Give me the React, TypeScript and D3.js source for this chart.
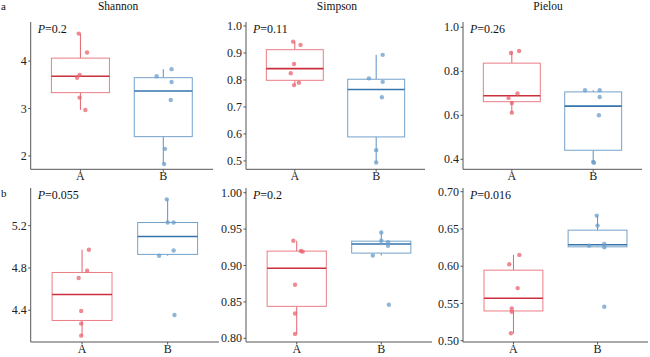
import React from "react";
import * as d3 from "d3";

const categories = ["A", "B"];
const titles = ["Shannon", "Simpson", "Pielou"];
const rowLabels = ["a", "b"];
const pLabels = ["0.2", "0.11", "0.26", "0.055", "0.2", "0.016"];

// values per panel, group A and B
const shannonA = [4.58, 4.18, 3.71, 3.65, 3.23, 2.97];
const shannonB = [3.68, 3.83, 3.56, 3.18, 2.15, 1.83];
const simpsonA = [0.942, 0.93, 0.859, 0.825, 0.79, 0.781];
const simpsonB = [0.893, 0.806, 0.793, 0.736, 0.54, 0.494];
const pielouA = [0.883, 0.892, 0.699, 0.679, 0.656, 0.612];
const pielouB = [0.714, 0.714, 0.683, 0.6, 0.388, 0.384];
const shannon2A = [4.973, 4.775, 4.705, 4.393, 4.274, 4.16];
const shannon2B = [5.449, 5.23, 5.23, 4.966, 4.916, 4.356];
const simpson2A = [0.934, 0.92, 0.919, 0.8735, 0.834, 0.806];
const simpson2B = [0.9453, 0.9339, 0.932, 0.927, 0.9137, 0.846];
const pielou2A = [0.6027, 0.6152, 0.5706, 0.5433, 0.5388, 0.51];
const pielou2B = [0.6679, 0.6545, 0.6276, 0.63, 0.6255, 0.5455];

// horizontal jitter (in category units)
const jit1A = [-0.02, 0.08, -0.01, -0.04, -0.01, 0.06];
const jit1B = [-0.08, 0.1, 0.1, 0.09, 0.02, 0.01];
const jit2A = [-0.02, 0.07, -0.01, -0.05, 0.05, -0.01];
const jit2B = [0.08, -0.09, 0.08, 0.07, 0, 0];
const jit3A = [-0.01, 0.09, 0.07, -0.04, 0, 0];
const jit3B = [-0.1, 0.08, 0.08, 0.07, 0, 0.01];
const jit4A = [0.08, 0.06, -0.04, -0.01, -0.01, -0.01];
const jit4B = [-0.01, 0, 0.07, 0.07, -0.1, 0.08];
const jit5A = [-0.04, 0.05, 0.07, -0.02, -0.02, -0.02];
const jit5B = [0, 0, 0.08, 0.08, -0.1, 0.09];
const jit6A = [-0.05, 0.07, 0.05, -0.02, -0.02, -0.03];
const jit6B = [-0.01, 0, -0.1, 0.08, 0.08, 0.08];

const ticks1 = [2, 3, 4];
const ticks2 = [0.5, 0.6, 0.7, 0.8, 0.9, 1.0];
const ticks3 = [0.4, 0.6, 0.8, 1.0];
const ticks4 = [4.4, 4.8, 5.2];
const ticks5 = [0.8, 0.85, 0.9, 0.95, 1.0];
const ticks6 = [0.5, 0.55, 0.6, 0.65, 0.7];

const domains: [number, number][] = [
  [1.719, 4.824],
  [0.469, 1.0148],
  [0.3544, 1.024],
  [4.1, 5.5565],
  [0.7949, 1.00646],
  [0.49826, 0.70497],
];

const panels = [
  { a: shannonA, b: shannonB, ja: jit1A, jb: jit1B, ticks: ticks1, fmt: "d" },
  { a: simpsonA, b: simpsonB, ja: jit2A, jb: jit2B, ticks: ticks2, fmt: ".1f" },
  { a: pielouA, b: pielouB, ja: jit3A, jb: jit3B, ticks: ticks3, fmt: ".1f" },
  { a: shannon2A, b: shannon2B, ja: jit4A, jb: jit4B, ticks: ticks4, fmt: ".1f" },
  { a: simpson2A, b: simpson2B, ja: jit5A, jb: jit5B, ticks: ticks5, fmt: ".2f" },
  { a: pielou2A, b: pielou2B, ja: jit6A, jb: jit6B, ticks: ticks6, fmt: ".2f" },
];

const layoutX = [
  [30.7, 213],
  [246, 425],
  [463, 642],
  [30.7, 219],
  [246, 432],
  [463, 648],
];
const layoutY = [
  [22, 169.3],
  [188, 342],
];

const colors = [
  { box: "#EB7D85", whisk: "#E3646E", med: "#CC2F3C", pt: "#E8636E" },
  { box: "#74A2CA", whisk: "#5F91BF", med: "#3574AC", pt: "#6A9DCA" },
];

const FONT = "Liberation Serif";

function stats(v: number[]) {
  const s = [...v].sort(d3.ascending);
  const q1 = d3.quantile(s, 0.25)!;
  const med = d3.quantile(s, 0.5)!;
  const q3 = d3.quantile(s, 0.75)!;
  const iqr = q3 - q1;
  const lo = d3.min(s.filter((x) => x >= q1 - 1.5 * iqr))!;
  const hi = d3.max(s.filter((x) => x <= q3 + 1.5 * iqr))!;
  return { q1, med, q3, lo, hi };
}

function Panel({ idx }: { idx: number }) {
  const p = panels[idx];
  const [x0, x1] = layoutX[idx];
  const [yTop, yBot] = layoutY[idx < 3 ? 0 : 1];
  const y = d3.scaleLinear().domain(domains[idx]).range([yBot, yTop]);
  const xc = d3.scaleLinear().domain([0.4, 2.6]).range([x0, x1]);
  const unit = xc(1) - xc(0);
  const fmt = d3.format(p.fmt);
  const groups = [
    { vals: p.a, jit: p.ja },
    { vals: p.b, jit: p.jb },
  ];
  const axisColor = "#555";
  return (
    <g>
      <line x1={x0} x2={x0} y1={yTop} y2={yBot} stroke={axisColor} strokeWidth={1} />
      <line x1={x0} x2={x1} y1={yBot} y2={yBot} stroke={axisColor} strokeWidth={1} />
      {p.ticks.map((t) => (
        <g key={t}>
          <line x1={x0 - 2.5} x2={x0} y1={y(t)} y2={y(t)} stroke={axisColor} />
          <text x={x0 - 4} y={y(t)} dy="0.35em" textAnchor="end" fontSize={12} fill="#222">
            {fmt(t)}
          </text>
        </g>
      ))}
      {categories.map((c, i) => (
        <g key={c}>
          <line x1={xc(i + 1)} x2={xc(i + 1)} y1={yBot} y2={yBot + 2.5} stroke={axisColor} />
          <text x={xc(i + 1)} y={yBot + 11} textAnchor="middle" fontSize={12} fill="#222">
            {c}
          </text>
        </g>
      ))}
      {groups.map((g, i) => {
        const s = stats(g.vals);
        const cx = xc(i + 1);
        const hw = unit * 0.35;
        const col = colors[i];
        return (
          <g key={i}>
            <line x1={cx} x2={cx} y1={y(s.hi)} y2={y(s.q3)} stroke={col.whisk} strokeWidth={1} />
            <line x1={cx} x2={cx} y1={y(s.q1)} y2={y(s.lo)} stroke={col.whisk} strokeWidth={1} />
            <rect
              x={cx - hw}
              y={y(s.q3)}
              width={hw * 2}
              height={Math.max(0.5, y(s.q1) - y(s.q3))}
              fill="white"
              fillOpacity={0.6}
              stroke={col.box}
              strokeWidth={1}
            />
            <line x1={cx - hw} x2={cx + hw} y1={y(s.med)} y2={y(s.med)} stroke={col.med} strokeWidth={1.6} />
            {g.vals.map((v, k) => (
              <circle key={k} cx={cx + g.jit[k] * unit} cy={y(v)} r={2.2} fill={col.pt} fillOpacity={0.75} />
            ))}
          </g>
        );
      })}
      <text x={x0 + 7} y={yTop + 10.5} fontSize={12} fill="#111">
        <tspan fontStyle="italic">P</tspan>
        {"=" + pLabels[idx]}
      </text>
    </g>
  );
}

export default function App() {
  const titleX = [118, 337, 548];
  return (
    <svg
      width={650}
      height={357}
      style={{ display: "block", position: "absolute", left: 0, top: 0, fontFamily: FONT }}
    >
      <rect width={650} height={357} fill="white" />
      {titles.map((t, i) => (
        <text key={t} x={titleX[i]} y={10} textAnchor="middle" fontSize={11.5} fill="#111">
          {t}
        </text>
      ))}
      <text x={1} y={10} fontSize={11} fill="#111">
        {rowLabels[0]}
      </text>
      <text x={1} y={197} fontSize={11} fill="#111">
        {rowLabels[1]}
      </text>
      {panels.map((_, i) => (
        <Panel key={i} idx={i} />
      ))}
    </svg>
  );
}
